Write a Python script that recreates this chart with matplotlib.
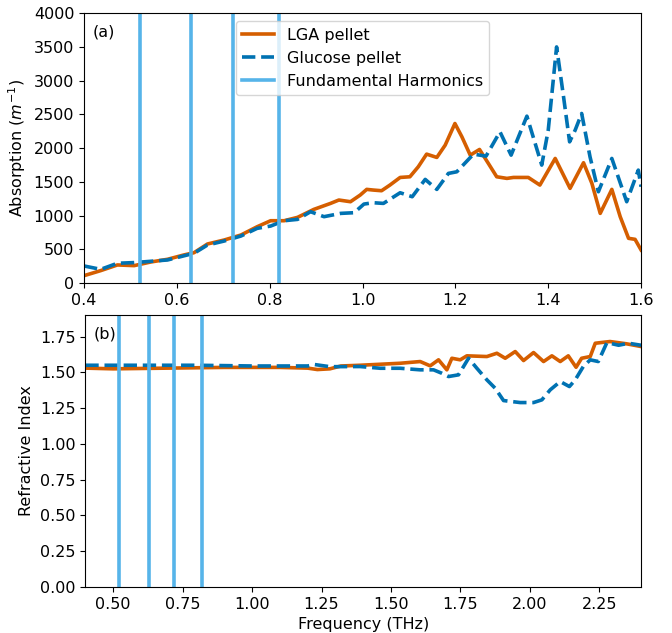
import matplotlib
matplotlib.use("Agg")
import matplotlib.pyplot as plt

# Panel (a): absorption
freq_a_lga = [0.400, 0.436, 0.472, 0.508, 0.544, 0.580, 0.615, 0.637, 0.666, 0.702, 0.738, 0.773,
              0.802, 0.831, 0.860, 0.895, 0.931, 0.949, 0.974, 0.995, 1.009, 1.023, 1.041, 1.059,
              1.081, 1.102, 1.120, 1.138, 1.160, 1.178, 1.199, 1.214, 1.232, 1.252, 1.271, 1.289,
              1.311, 1.325, 1.357, 1.382, 1.415, 1.447, 1.476, 1.494, 1.512, 1.537, 1.555, 1.573,
              1.587, 1.600]
abs_lga = [108, 183, 267, 257, 311, 351, 415, 449, 578, 637, 711, 834,
           923, 923, 973, 1091, 1180, 1230, 1205, 1304, 1388, 1378, 1368, 1452,
           1565, 1575, 1723, 1911, 1862, 2044, 2365, 2168, 1896, 1980, 1773, 1575,
           1551, 1565, 1565, 1452, 1847, 1403, 1783, 1477, 1032, 1388, 983, 662,
           647, 489]

freq_a_glu = [0.400, 0.436, 0.472, 0.508, 0.580, 0.637, 0.666, 0.702, 0.738, 0.773, 0.802, 0.831,
              0.860, 0.888, 0.917, 0.953, 0.982, 1.003, 1.023, 1.045, 1.081, 1.107, 1.135, 1.160,
              1.185, 1.203, 1.239, 1.266, 1.296, 1.320, 1.354, 1.386, 1.400, 1.418, 1.433, 1.446,
              1.458, 1.472, 1.490, 1.508, 1.537, 1.569, 1.594, 1.600]
abs_glu = [252, 202, 292, 302, 341, 440, 563, 622, 696, 810, 844, 923,
           943, 1057, 983, 1032, 1042, 1170, 1190, 1180, 1338, 1279, 1536, 1388,
           1625, 1649, 1911, 1881, 2242, 1896, 2474, 1748, 2267, 3501, 2760, 2093,
           2267, 2514, 1871, 1353, 1847, 1205, 1674, 1427]

# Panel (b): refractive index
freq_b_lga = [0.40, 0.50, 0.70, 0.90, 1.10, 1.20, 1.235, 1.28, 1.32, 1.389, 1.461, 1.533, 1.605,
              1.641, 1.671, 1.701, 1.719, 1.749, 1.773, 1.845, 1.881, 1.911, 1.947, 1.977, 2.013,
              2.049, 2.079, 2.109, 2.138, 2.166, 2.186, 2.217, 2.235, 2.288, 2.348, 2.40]
n_lga = [1.53, 1.525, 1.53, 1.535, 1.535, 1.53, 1.52, 1.525, 1.545, 1.55, 1.557, 1.564, 1.576,
         1.546, 1.588, 1.518, 1.599, 1.588, 1.616, 1.611, 1.634, 1.599, 1.646, 1.583, 1.639,
         1.576, 1.616, 1.576, 1.616, 1.536, 1.599, 1.611, 1.704, 1.716, 1.70, 1.681]

freq_b_glu = [0.40, 0.60, 0.80, 1.00, 1.20, 1.225, 1.28, 1.389, 1.461, 1.533, 1.605, 1.653, 1.683,
              1.707, 1.743, 1.779, 1.809, 1.845, 1.875, 1.905, 1.965, 2.013, 2.043, 2.073, 2.109,
              2.142, 2.163, 2.192, 2.217, 2.246, 2.277, 2.319, 2.355, 2.40]
n_glu = [1.55, 1.55, 1.55, 1.545, 1.545, 1.555, 1.54, 1.541, 1.529, 1.529, 1.518, 1.518, 1.494,
         1.471, 1.483, 1.599, 1.529, 1.448, 1.389, 1.303, 1.289, 1.289, 1.308, 1.378, 1.436,
         1.401, 1.448, 1.541, 1.588, 1.576, 1.709, 1.690, 1.704, 1.690]

harmonics = [0.52, 0.63, 0.72, 0.82]

ORANGE = "#D55E00"
BLUE = "#0072B2"
LIGHT = "#56B4E9"

plt.rcParams["font.size"] = 11.5
fig = plt.figure(figsize=(6.72, 6.33), dpi=100)
ax1 = fig.add_axes([0.125, 0.553, 0.829, 0.426])
ax2 = fig.add_axes([0.127, 0.073, 0.827, 0.429])

ax1.plot(freq_a_lga, abs_lga, color=ORANGE, lw=2.6, label="LGA pellet")
ax1.plot(freq_a_glu, abs_glu, color=BLUE, lw=2.6, ls="--", label="Glucose pellet")
for i, h in enumerate(harmonics):
    ax1.axvline(h, color=LIGHT, lw=2.6, label="Fundamental Harmonics" if i == 0 else None)
ax1.set_xlim(0.4, 1.6)
ax1.set_ylim(0, 4000)
ax1.set_ylabel("Absorption ($m^{-1}$)")
ax1.text(0.015, 0.96, "(a)", transform=ax1.transAxes, ha="left", va="top")
ax1.legend(loc="upper center")

ax2.plot(freq_b_lga, n_lga, color=ORANGE, lw=2.6)
ax2.plot(freq_b_glu, n_glu, color=BLUE, lw=2.6, ls="--")
for h in harmonics:
    ax2.axvline(h, color=LIGHT, lw=2.6)
ax2.set_xlim(0.4, 2.4)
ax2.set_ylim(0, 1.9)
ax2.set_xticks([0.5, 0.75, 1.0, 1.25, 1.5, 1.75, 2.0, 2.25])
ax2.set_ylabel("Refractive Index")
ax2.set_xlabel("Frequency (THz)")
ax2.text(0.015, 0.96, "(b)", transform=ax2.transAxes, ha="left", va="top")

fig.savefig("out.png", dpi=100)
